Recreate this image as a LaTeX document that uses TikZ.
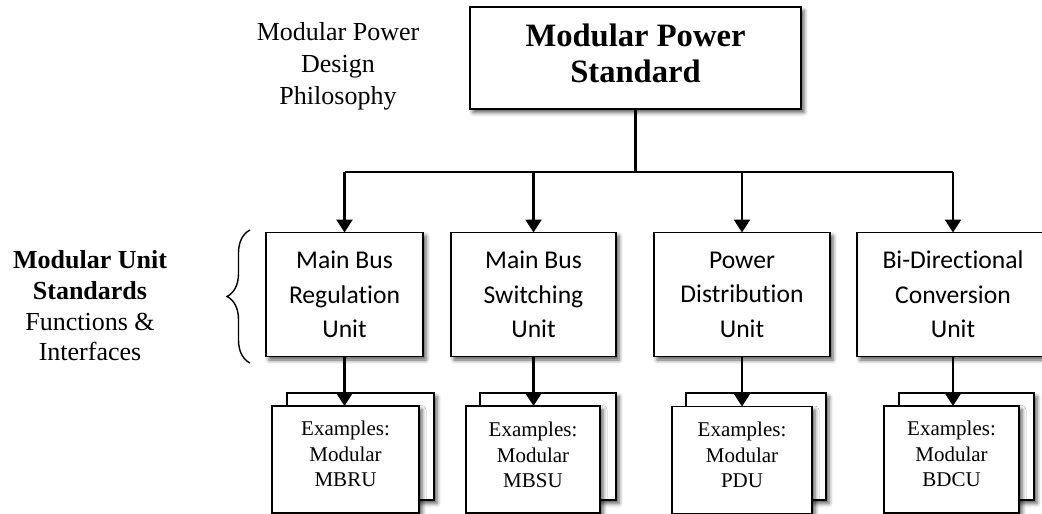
\documentclass[tikz,border=0pt]{standalone}
\usepackage{fontspec}
\setmainfont{Liberation Serif}
\newfontfamily\calfont{Carlito}[Ligatures=NoCommon]
\usetikzlibrary{arrows.meta,shadows.blur,decorations.pathreplacing}
\begin{document}
\begin{tikzpicture}[x=1pt,y=-1pt,
  box/.style={draw,line width=1.2pt,fill=white,inner sep=0pt,outer sep=0pt,
    blur shadow={shadow xshift=3pt,shadow yshift=-3.5pt,shadow blur radius=4pt,shadow opacity=65}},
  topbox/.style={box,minimum width=331pt,minimum height=102pt},
  toptext/.style={align=center,inner sep=0pt,font={\bfseries\fontsize{32.6}{36}\selectfont}},
  unitbox/.style={box,minimum height=124pt,align=center,
    font={\calfont\fontsize{25.6}{34.5}\selectfont}},
  exbox/.style={box,minimum height=107pt},
  extext/.style={align=center,inner sep=0pt,font={\fontsize{21}{25.5}\selectfont}},
  conn/.style={line width=2.6pt},
  arr/.style={conn,-{Triangle[width=16pt,length=13pt]}},
  plain/.style={align=center,inner sep=0pt}
]
\useasboundingbox (0,0) rectangle (1042,514);

% left and top-left texts
\node[plain,font={\fontsize{26}{32}\selectfont}] (phil) at (338,66) {Modular Power\\Design\\Philosophy};
\node[plain,font={\fontsize{26}{30.7}\selectfont}] (mus) at (90,306)
  {\textbf{Modular Unit}\\\textbf{Standards}\\Functions \&\\Interfaces};

% top box
\node[topbox] (top) at (635.5,58) {};
\node[toptext] (toplbl) at (635.5,53) {Modular Power\\Standard};

% unit boxes
\node[unitbox,minimum width=157pt] (u1) at (344.5,294.5) {Main Bus\\Regulation\\Unit};
\node[unitbox,minimum width=165pt] (u2) at (533.5,294.5) {Main Bus\\Switching\\Unit};
\node[unitbox,minimum width=176pt] (u3) at (742,294.5) {Power\\Distribution\\Unit};
\node[unitbox,minimum width=192pt] (u4) at (953,294.5) {Bi-Directional\\Conversion\\Unit};

% example boxes (back)
\node[exbox,minimum width=147pt] (e1b) at (360.5,446.5) {};
\node[exbox,minimum width=136pt] (e2b) at (548,446.5) {};
\node[exbox,minimum width=140pt] (e3b) at (756,446.5) {};
\node[exbox,minimum width=135pt] (e4b) at (966.5,446.5) {};
% example boxes (front)
\node[exbox,minimum width=147pt] (e1f) at (345.5,459.5) {};
\node[exbox,minimum width=134pt] (e2f) at (533,459.5) {};
\node[exbox,minimum width=140pt] (e3f) at (742,460) {};
\node[exbox,minimum width=135pt] (e4f) at (951.5,459.5) {};
\node[extext] (t1) at (345.5,454) {Examples:\\Modular\\MBRU};
\node[extext] (t2) at (533,455) {Examples:\\Modular\\MBSU};
\node[extext] (t3) at (742,455) {Examples:\\Modular\\PDU};
\node[extext] (t4) at (951.5,454) {Examples:\\Modular\\BDCU};

% bus
\coordinate (bus) at (635.5,172);
\draw[conn] (top.south) -- (bus);
\draw[conn] (u1.north |- bus) -- (u4.north |- bus);
\foreach \u in {u1,u2,u3,u4} {
  \draw[arr] (\u.north |- bus) -- (\u.north);
}
\draw[arr] (u1.south) -- (u1.south |- e1f.north);
\draw[arr] (u2.south) -- (u2.south |- e2f.north);
\draw[arr] (u3.south) -- (u3.south |- e3f.north);
\draw[arr] (u4.south) -- (u4.south |- e4f.north);

% brace
\coordinate (bb) at (250,363);
\coordinate (bt) at (250,230);
\draw[line width=1.4pt,decorate,decoration={brace,amplitude=23pt}] (bb) -- (bt);
\end{tikzpicture}
\end{document}
